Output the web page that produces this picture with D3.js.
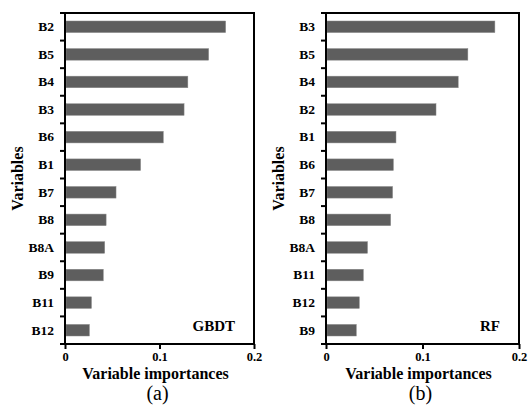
<!DOCTYPE html>
<html><head><meta charset="utf-8">
<script src="https://cdn.jsdelivr.net/npm/d3@7"></script>
<style>body{margin:0;background:#fff}svg{display:block}text{font-family:"Times New Roman",Times,"Liberation Serif",serif}</style>
</head><body>
<svg id="c" width="529" height="405"></svg>
<script>
const gbdtVars = ["B2","B5","B4","B3","B6","B1","B7","B8","B8A","B9","B11","B12"];
const gbdtVals = [0.170,0.152,0.130,0.126,0.104,0.080,0.054,0.0435,0.042,0.0405,0.028,0.0258];
const rfVars = ["B3","B5","B4","B2","B1","B6","B7","B8","B8A","B11","B12","B9"];
const rfVals = [0.175,0.147,0.137,0.114,0.0725,0.0698,0.069,0.067,0.043,0.0387,0.0345,0.0314];
const xTicks = [0,0.1,0.2];
const xTickLabels = ["0","0.1","0.2"];
const panels = [
  {vars:gbdtVars, vals:gbdtVals, model:"GBDT", sub:"(a)", left:65, right:254},
  {vars:rfVars, vals:rfVals, model:"RF", sub:"(b)", left:326, right:519}
];
const plotTop = 13, plotBottom = 344;
const FONT = "'Times New Roman', Times, 'Liberation Serif', serif";
const svg = d3.select("#c");
panels.forEach(p => {
  const g = svg.append("g");
  const x = d3.scaleLinear().domain([0,0.2]).range([p.left,p.right]);
  const y = d3.scaleBand().domain(p.vars).range([plotTop,plotBottom]).paddingInner(0.58).paddingOuter(0.29);
  g.selectAll("rect.bar").data(p.vars).join("rect").attr("class","bar")
    .attr("x", x(0)+1).attr("y", d=>y(d))
    .attr("width", (d,i)=>x(p.vals[i])-x(0)-1).attr("height", y.bandwidth())
    .attr("fill","#5e5e5e").attr("stroke","#8a8a8a").attr("stroke-width",0.5);
  g.append("rect").attr("x",p.left).attr("y",plotTop).attr("width",p.right-p.left).attr("height",plotBottom-plotTop)
    .attr("fill","none").attr("stroke","#000").attr("stroke-width",2);
  const step = (plotBottom-plotTop)/p.vars.length;
  g.selectAll("line.yt").data(d3.range(p.vars.length+1)).join("line").attr("class","yt")
    .attr("x1",p.left-5).attr("x2",p.left).attr("y1",i=>plotTop+i*step).attr("y2",i=>plotTop+i*step)
    .attr("stroke","#000").attr("stroke-width",2);
  const ya = d3.axisLeft(y).tickSize(0).tickPadding(11);
  const yg = g.append("g").attr("transform",`translate(${p.left},0)`).call(ya);
  yg.select(".domain").remove();
  yg.attr("font-family",FONT);
  yg.selectAll("text").attr("font-size",13.5).attr("font-weight","bold").attr("fill","#000");
  const xa = d3.axisBottom(x).tickValues(xTicks).tickFormat((d,i)=>xTickLabels[i]).tickSize(5).tickPadding(3);
  const xg = g.append("g").attr("transform",`translate(0,${plotBottom})`).call(xa);
  xg.select(".domain").remove();
  xg.attr("font-family",FONT);
  xg.selectAll("line").attr("stroke","#000").attr("stroke-width",2);
  xg.selectAll("text").attr("font-size",12.5).attr("font-weight","bold").attr("fill","#000");
  const cx = (p.left+p.right)/2;
  g.append("text").attr("x",cx-4).attr("y",379).attr("text-anchor","middle").attr("font-family",FONT)
    .attr("font-size",16).attr("font-weight","bold").text("Variable importances");
  g.append("text").attr("x",cx-2).attr("y",400).attr("text-anchor","middle").attr("font-family",FONT)
    .attr("font-size",20).text(p.sub);
  g.append("text").attr("transform",`translate(${p.left-42},${(plotTop+plotBottom)/2}) rotate(-90)`)
    .attr("text-anchor","middle").attr("font-family",FONT).attr("font-size",16).attr("font-weight","bold").text("Variables");
  g.append("text").attr("x",p.right-19).attr("y",331).attr("text-anchor","end").attr("font-family",FONT)
    .attr("font-size",15).attr("font-weight","bold").text(p.model);
});
</script>
</body></html>
